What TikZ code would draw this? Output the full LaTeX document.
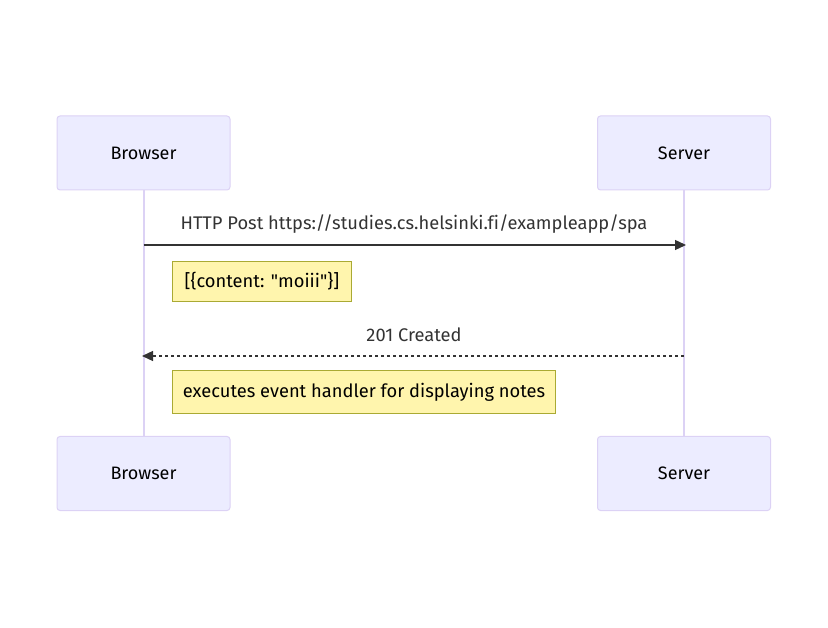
\documentclass[tikz,border=0pt]{standalone}
\usepackage{fontspec}
\newfontfamily\mf{Fira Sans}[Ligatures=NoCommon]
\usetikzlibrary{arrows.meta}
\definecolor{actfill}{HTML}{ECECFF}
\definecolor{actline}{HTML}{DCD2F5}
\definecolor{notefill}{HTML}{FFF5AD}
\definecolor{noteline}{HTML}{AAAA33}
\definecolor{msg}{HTML}{333333}
\tikzset{
  actor/.style={draw=actline, fill=actfill, line width=1pt, rounded corners=3pt,
    minimum width=173pt, minimum height=74pt, inner sep=0pt, font=\mf\fontsize{18}{21}\selectfont, text=black},
  note/.style={draw=noteline, fill=notefill, line width=1pt, inner sep=0pt,
    font=\mf\fontsize{18}{21}\selectfont, text=black, anchor=north west},
  life/.style={draw=actline, line width=2pt},
  msgline/.style={draw=msg, line width=1.3pt, -{Triangle[length=11pt,width=10pt]}},
  msglabel/.style={font=\mf\fontsize{18.3}{21}\selectfont, text=msg, inner sep=0pt},
}
\begin{document}
\begin{tikzpicture}[x=1pt,y=-1pt]
\useasboundingbox (0,0) rectangle (828,628);
\node[actor] (bt) at (143.5,153) {Browser};
\node[actor] (st) at (684,153) {Server};
\node[actor] (bb) at (143.5,473.5) {Browser};
\node[actor] (sb) at (684,473.5) {Server};
\draw[life] (bt.south) -- (bb.north);
\draw[life] (st.south) -- (sb.north);
\coordinate (a1s) at (143.5,245);
\coordinate (a1e) at (686,245);
\draw[msgline] (a1s) -- (a1e);
\node[msglabel] (l1) at (414,224) {HTTP Post https://studies.cs.helsinki.fi/exampleapp/spa};
\node[note, minimum width=179pt, minimum height=40pt] (n1) at (172,261) {};
\node[msglabel, text=black] (n1t) at (n1.center) {[\{content: "moiii"\}]};
\coordinate (a2s) at (684,356);
\coordinate (a2e) at (142,356);
\draw[msgline, dash pattern=on 3pt off 3pt] (a2s) -- (a2e);
\node[msglabel] (l2) at (414,335) {201 Created};
\node[note, minimum width=383pt, minimum height=43pt] (n2) at (172,370) {};
\node[msglabel, text=black] (n2t) at (n2.center) {executes event handler for displaying notes};
\end{tikzpicture}
\end{document}
